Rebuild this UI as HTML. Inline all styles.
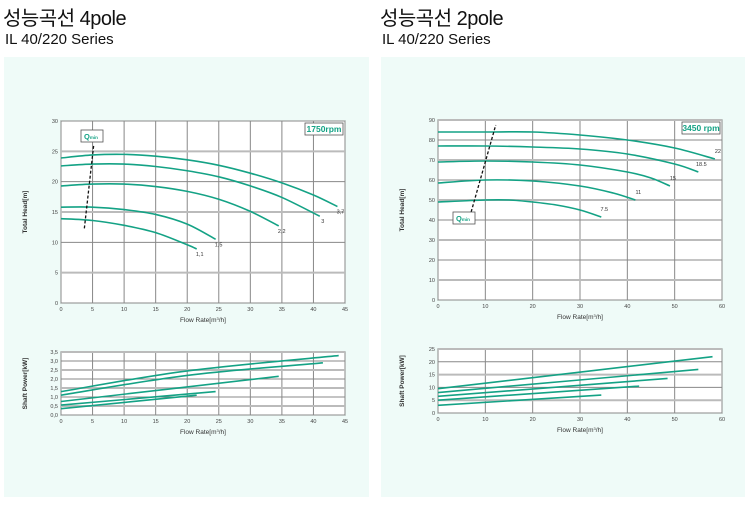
<!DOCTYPE html>
<html><head><meta charset="utf-8">
<style>
body{margin:0;width:746px;height:516px;background:#fff;position:relative;overflow:hidden;font-family:"Liberation Sans","Noto Sans CJK KR",sans-serif;}
.t1{position:absolute;font-size:20px;color:#111;letter-spacing:-0.5px}
.t2{position:absolute;font-size:15px;color:#111}
.panel{position:absolute;background:#effbf8}
svg{position:absolute;left:0;top:0}
</style></head><body>
<div class="t1" style="left:3px;top:2px">성능곡선 4pole</div>
<div class="t2" style="left:5px;top:31px">IL 40/220 Series</div>
<div class="t1" style="left:380px;top:2px">성능곡선 2pole</div>
<div class="t2" style="left:382px;top:31px">IL 40/220 Series</div>
<div class="panel" style="left:4px;top:57px;width:365px;height:440px"></div>
<div class="panel" style="left:381px;top:57px;width:364px;height:440px"></div>
<svg id="svg" width="746" height="516"></svg>
<script>
// 4pole head curves
const headL_labels=["3.7","3","2.2","1.5","1.1"];
const headL_x=[[0,5,10,15,20,25,30,35,40,43.8],[0,5,10,15,20,25,30,35,41],[0,5,10,15,20,25,30,34.5],[0,5,10,15,20,24.5],[0,5,10,15,20,21.5]];
const headL_y=[[23.9,24.4,24.5,24.2,23.6,22.7,21.4,19.8,17.8,15.9],[22.6,22.9,22.9,22.5,21.8,20.8,19.3,17.4,14.3],[19.3,19.6,19.6,19.2,18.4,17.1,15.1,12.7],[15.8,15.8,15.4,14.6,13.0,10.5],[13.9,13.6,12.8,11.6,9.6,8.9]];
const qminL_x=[3.7,5.2], qminL_y=[12.3,26.2];
// 2pole head curves
const headR_labels=["22","18.5","15","11","7.5"];
const headR_x=[[0,10,20,30,40,50,58.5],[0,10,20,30,40,50,55],[0,10,20,30,40,45,49],[0,10,20,30,37,41.7],[0,10,15,20,25,30,34.5]];
const headR_y=[[84,84,84,82.5,80,76,70.5],[77,77,76.5,75.5,73,68,64],[69,69.5,69,67.5,64,61,57],[58.5,60,59.5,57,53.5,50],[49,50,50,49,47.5,45,41.5]];
const qminR_x=[7,12.2], qminR_y=[44,87.5];
// shaft power
const powL_x=[[0,20,44],[0,20,41.5],[0,34.5],[0,24.5],[0,21.5]];
const powL_y=[[1.3,2.45,3.3],[1.1,2.2,2.9],[0.75,2.15],[0.55,1.3],[0.35,1.1]];
const powR_x=[[0,58],[0,55],[0,48.5],[0,42.5],[0,34.5]];
const powR_y=[[9.5,22],[8,17],[6.5,13.5],[5,10.5],[3,7]];
const ticksHL_x=[0,5,10,15,20,25,30,35,40,45], ticksHL_y=[0,5,10,15,20,25,30];
const ticksPL_y=["0,0","0,5","1,0","1,5","2,0","2,5","3,0","3,5"];
const ticksHR_x=[0,10,20,30,40,50,60], ticksHR_y=[0,10,20,30,40,50,60,70,80,90];
const ticksPR_y=[0,5,10,15,20,25];

const NS="http://www.w3.org/2000/svg", svg=document.getElementById('svg');
function el(t,a,p){const e=document.createElementNS(NS,t);for(const k in a)e.setAttribute(k,a[k]);(p||svg).appendChild(e);return e;}
function chart(o){
  const sx=v=>o.x0+(v-o.xmin)/(o.xmax-o.xmin)*(o.x1-o.x0);
  const sy=v=>o.y0-(v-o.ymin)/(o.ymax-o.ymin)*(o.y0-o.y1);
  const g=el('g',{});
  
  
  el('rect',{x:o.x0,y:o.y1,width:o.x1-o.x0,height:o.y0-o.y1,fill:'#fff',stroke:'#555','stroke-width':1},g);
  o.xt.forEach(v=>{const x=sx(v);
    const l=el('line',{x1:x,x2:x,y1:o.y1,y2:o.y0,stroke:'#888','stroke-width':1},g);
    
    const t=el('text',{x:x,y:o.y0+8,'font-size':5.5,'text-anchor':'middle',fill:'#444'},g);t.textContent=v;
    });
  o.yt.forEach((lab,i)=>{const v=o.ylv?o.ylv[i]:lab;const y=sy(v);
    const l=el('line',{x1:o.x0,x2:o.x1,y1:y,y2:y,stroke:(i%2==1&&o.band)?'#bbb':'#888','stroke-width':(i%2==1&&o.band)?2:1},g);
    
    const t=el('text',{x:o.x0-3,y:y+2,'font-size':5.5,'text-anchor':'end',fill:'#444'},g);t.textContent=lab;
    });
  const xt=el('text',{x:(o.x0+o.x1)/2,y:o.y0+19,'font-size':6.5,'text-anchor':'middle',fill:'#333'},g);
  xt.innerHTML='Flow Rate[m<tspan font-size="4" dy="-2">3</tspan><tspan dy="2">/h]</tspan>';
  
  const yx=o.x0-34,yy=(o.y0+o.y1)/2;
  const ytt=el('text',{x:yx,y:yy,'font-size':6.5,'font-weight':'bold','text-anchor':'middle',fill:'#333',transform:`rotate(-90 ${yx} ${yy})`},g);
  ytt.textContent=o.ytitle;
  o.xs.forEach((xa,i)=>{
    const pts=xa.map((x,j)=>[sx(x),sy(o.ys[i][j])]);
    let d='M'+pts[0].join(',');
    for(let j=0;j<pts.length-1;j++){const p0=pts[j-1]||pts[j],p1=pts[j],p2=pts[j+1],p3=pts[j+2]||p2;
      d+=` C${p1[0]+(p2[0]-p0[0])/6},${p1[1]+(p2[1]-p0[1])/6} ${p2[0]-(p3[0]-p1[0])/6},${p2[1]-(p3[1]-p1[1])/6} ${p2[0]},${p2[1]}`;}
    const p=el('path',{d:d,fill:'none',stroke:'#14a285','stroke-width':1.6},g);
    
    if(o.labels){const e=pts[pts.length-1];
      const t=el('text',{x:e[0]+(o.lox||3),y:e[1]+(o.loy||7),'font-size':5.5,fill:'#333','text-anchor':'middle'},g);
      t.textContent=o.labels[i].replace('.',o.comma?',':'.');
      }
  });
  if(o.qx){const l=el('line',{x1:sx(o.qx[0]),y1:sy(o.qy[0]),x2:sx(o.qx[1]),y2:sy(o.qy[1]),stroke:'#111','stroke-width':1.3,'stroke-dasharray':'3,2'},g);
    
    const b=el('g',{},g);
    el('rect',{x:o.qb[0],y:o.qb[1],width:22,height:12,fill:'#fff',stroke:'#555','stroke-width':0.8},b);
    const t=el('text',{x:o.qb[0]+3,y:o.qb[1]+9,'font-size':7.5,'font-weight':'bold',fill:'#14a285'},b);
    t.innerHTML='Q<tspan font-size="4.5">min</tspan>';}
  if(o.rpm){const b=el('g',{},g);
    el('rect',{x:o.x1-40,y:o.y1+2,width:38,height:12,fill:'#fff',stroke:'#555','stroke-width':0.8},b);
    const t=el('text',{x:o.x1-21,y:o.y1+11,'font-size':8.5,'font-weight':'bold','text-anchor':'middle',fill:'#14a285'},b);t.textContent=o.rpm;}
}
chart({name:'head-chart-4pole',x0:61,x1:345,y0:303,y1:121,xmin:0,xmax:45,ymin:0,ymax:30,xt:ticksHL_x,yt:ticksHL_y,band:true,xs:headL_x,ys:headL_y,labels:headL_labels,comma:true,ytitle:'Total Head[m]',qx:qminL_x,qy:qminL_y,qb:[81,130],rpm:'1750rpm'});
chart({name:'power-chart-4pole',x0:61,x1:345,y0:415,y1:352,xmin:0,xmax:45,ymin:0,ymax:3.5,xt:ticksHL_x,yt:ticksPL_y,ylv:[0,0.5,1,1.5,2,2.5,3,3.5],band:true,xs:powL_x,ys:powL_y,ytitle:'Shaft Power[kW]'});
chart({name:'head-chart-2pole',x0:438,x1:722,y0:300,y1:120,xmin:0,xmax:60,ymin:0,ymax:90,xt:ticksHR_x,yt:ticksHR_y,band:true,xs:headR_x,ys:headR_y,labels:headR_labels,lox:0,loy:-6,ytitle:'Total Head[m]',qx:qminR_x,qy:qminR_y,qb:[453,212],rpm:'3450 rpm'});
chart({name:'power-chart-2pole',x0:438,x1:722,y0:413,y1:349,xmin:0,xmax:60,ymin:0,ymax:25,xt:ticksHR_x,yt:ticksPR_y,band:true,xs:powR_x,ys:powR_y,ytitle:'Shaft Power[kW]'});
</script>
</body></html>
